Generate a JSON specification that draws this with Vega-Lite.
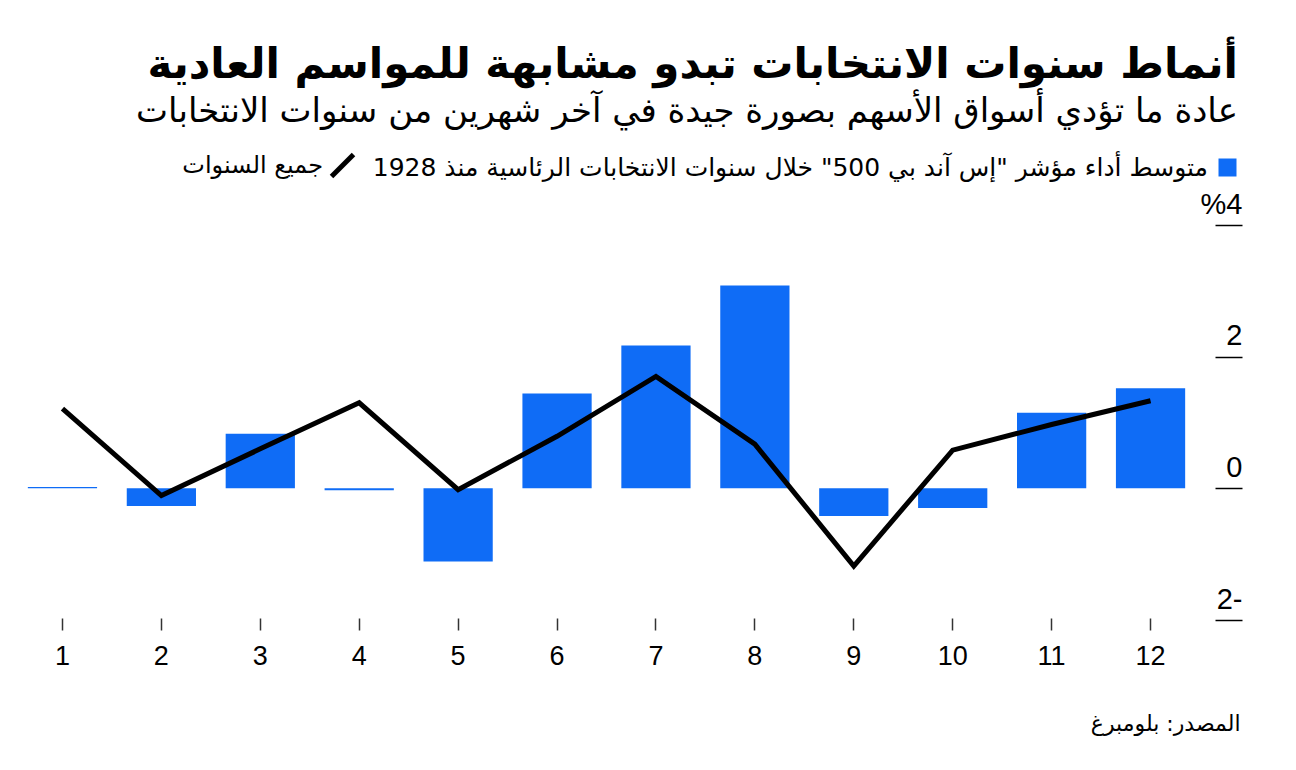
{
  "$schema": "https://vega.github.io/schema/vega-lite/v6.json",
  "width": 1187,
  "height": 395,
  "autosize": {"type": "none"},
  "padding": {"left": 13, "top": 225, "right": 96, "bottom": 150},
  "background": "white",
  "config": {"view": {"stroke": null}, "font": "DejaVu Sans"},
  "title": {
    "text": "أنماط سنوات الانتخابات تبدو مشابهة للمواسم العادية",
    "subtitle": "عادة ما تؤدي أسواق الأسهم بصورة جيدة في آخر شهرين من سنوات الانتخابات",
    "anchor": "end",
    "frame": "group",
    "dx": 38,
    "fontSize": 42,
    "fontWeight": "bold",
    "font": "DejaVu Sans",
    "color": "#000",
    "subtitleFont": "DejaVu Sans",
    "subtitleFontSize": 34,
    "subtitleColor": "#000",
    "subtitlePadding": 8,
    "offset": 22
  },
  "data": {
    "values": [
      {"month": 1, "bar": 0.02, "line": 1.21},
      {"month": 2, "bar": -0.27, "line": -0.11},
      {"month": 3, "bar": 0.83, "line": 0.6},
      {"month": 4, "bar": -0.03, "line": 1.3},
      {"month": 5, "bar": -1.11, "line": -0.02},
      {"month": 6, "bar": 1.44, "line": 0.79},
      {"month": 7, "bar": 2.17, "line": 1.7},
      {"month": 8, "bar": 3.08, "line": 0.67},
      {"month": 9, "bar": -0.42, "line": -1.18},
      {"month": 10, "bar": -0.3, "line": 0.58},
      {"month": 11, "bar": 1.15, "line": 0.97},
      {"month": 12, "bar": 1.52, "line": 1.33}
    ]
  },
  "encoding": {
    "x": {
      "field": "month",
      "type": "ordinal",
      "scale": {"paddingInner": 0.3, "paddingOuter": 0.15},
      "axis": {
        "orient": "bottom",
        "labelAngle": 0,
        "domain": false,
        "tickSize": 12,
        "tickColor": "#333",
        "tickWidth": 1.5,
        "labelFontSize": 27,
        "labelFont": "Liberation Sans, Arial",
        "labelPadding": 13,
        "labelColor": "#000",
        "offset": -2,
        "title": "المصدر: بلومبرغ",
        "titleFont": "DejaVu Sans",
        "titleFontSize": 22,
        "titleFontWeight": "normal",
        "titleColor": "#000",
        "titleAnchor": "end",
        "titleAlign": "right",
        "titleX": 1227,
        "titleY": 112,
        "titleBaseline": "alphabetic"
      }
    }
  },
  "layer": [
    {
      "mark": {"type": "bar"},
      "encoding": {
        "y": {
          "field": "bar",
          "type": "quantitative",
          "scale": {"domain": [-2, 4], "nice": false, "zero": false},
          "axis": {
            "orient": "right",
            "values": [-2, 0, 2, 4],
            "domain": false,
            "grid": false,
            "offset": 15,
            "tickSize": 27,
            "tickColor": "#000",
            "tickWidth": 1.5,
            "labelAlign": "right",
            "labelPadding": 0,
            "labelBaseline": "alphabetic",
            "labelOffset": -12,
            "labelFontSize": 29,
            "labelFont": "Liberation Sans, Arial",
            "labelColor": "#000",
            "title": null,
            "labelExpr": "datum.value == 4 ? '%4' : datum.value == -2 ? '2-' : format(datum.value, 'd')"
          }
        },
        "color": {
          "datum": "متوسط أداء مؤشر \"إس آند بي 500\" خلال سنوات الانتخابات الرئاسية منذ 1928",
          "scale": {"range": ["#0f6cf6"]},
          "legend": {
            "orient": "none",
            "legendX": 1202,
            "legendY": -70,
            "title": null,
            "symbolType": "square",
            "symbolSize": 324,
            "symbolStrokeWidth": 0,
            "labelAlign": "right",
            "labelOffset": -32,
            "labelFontSize": 25,
            "labelFont": "DejaVu Sans",
            "labelColor": "#000",
            "labelLimit": 3000,
            "padding": 0
          }
        }
      }
    },
    {
      "mark": {"type": "rule", "color": "#333", "strokeWidth": 1.5},
      "encoding": {"y": {"datum": 0}}
    },
    {
      "mark": {"type": "line", "strokeWidth": 5},
      "encoding": {
        "y": {"field": "line", "type": "quantitative"},
        "stroke": {
          "datum": "جميع السنوات",
          "scale": {"range": ["#000"]},
          "legend": {
            "orient": "none",
            "legendX": 316,
            "legendY": -73,
            "title": null,
            "symbolType": "M-1,1L1,-1",
            "symbolSize": 484,
            "symbolStrokeWidth": 5,
            "symbolFillColor": "transparent",
            "labelAlign": "right",
            "labelOffset": -33,
            "labelFontSize": 24,
            "labelFont": "DejaVu Sans",
            "labelColor": "#000",
            "labelLimit": 3000,
            "padding": 0
          }
        }
      }
    }
  ]
}
